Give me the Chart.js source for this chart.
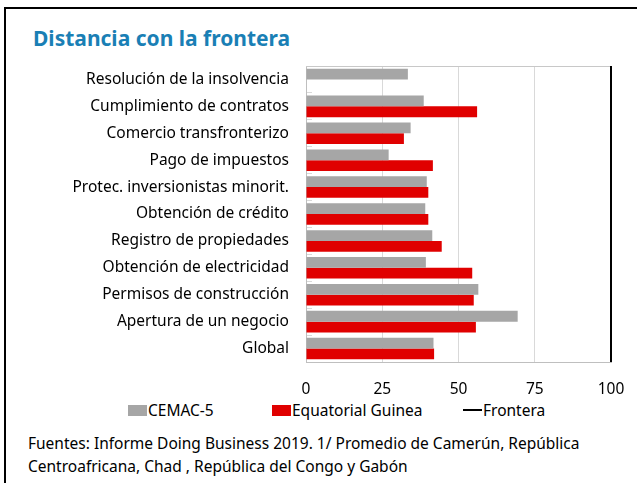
<!DOCTYPE html>
<html>
<head>
<meta charset="utf-8">
<script src="https://cdn.jsdelivr.net/npm/chart.js@4/dist/chart.umd.min.js"></script>
<style>
body{margin:0;background:#fff;font-family:"Noto Sans",sans-serif;color:#000;}
#wrap{position:relative;width:637px;height:483px;overflow:hidden;}
#frame{position:absolute;left:4px;top:7px;width:700px;height:500px;border-left:2px solid #000;border-top:2px solid #000;}
#title{position:absolute;left:33px;top:24px;font-size:21px;font-weight:bold;color:#1a7fb5;white-space:nowrap;}
#chartBox{position:absolute;left:0;top:55px;width:637px;height:340px;}
#legend{position:absolute;left:128px;top:400px;display:flex;font-size:15.5px;line-height:20px;white-space:nowrap;}
#legend .item{display:flex;align-items:center;}
#legend .sw{width:19px;height:11px;margin-right:1px;}
#legend .ln{width:19px;height:2px;margin-right:1px;}
#note{position:absolute;left:28px;top:432px;font-size:15.5px;line-height:23px;white-space:nowrap;}
</style>
</head>
<body>
<div id="wrap">
  <div id="frame"></div>
  <div id="title">Distancia con la frontera</div>
  <div id="chartBox"><canvas id="distChart"></canvas></div>
  <div id="legend"></div>
  <div id="note">Fuentes: Informe Doing Business 2019. 1/ Promedio de Camerún, República<br>Centroafricana, Chad , República del Congo y Gabón</div>
</div>

<script>
// ---------- data ----------
const categories = [
    "Resolución de la insolvencia",
    "Cumplimiento de contratos",
    "Comercio transfronterizo",
    "Pago de impuestos",
    "Protec. inversionistas minorit.",
    "Obtención de crédito",
    "Registro de propiedades",
    "Obtención de electricidad",
    "Permisos de construcción",
    "Apertura de un negocio",
    "Global"
];

const cemac = [33.4, 38.6, 34.3, 27.1, 39.6, 39.1, 41.4, 39.3, 56.5, 69.4, 41.8];

const eqGuinea = [null, 56.1, 32.1, 41.6, 40.1, 40.1, 44.5, 54.5, 55.0, 55.7, 42.0];

const frontera = 100;

const xTicks = [0, 25, 50, 75, 100];


// ---------- chart ----------
const font = {family:"'Noto Sans', sans-serif", size:15.5};

// drop the automatic label overhang so the plot box sits where we put it
const noPad = (s)=>{
    s.paddingTop = 0;
    s.paddingBottom = 0;
    s.paddingLeft = 0;
    s.paddingRight = 0;
};

const chart = new Chart(document.getElementById("distChart"), {

    data:{
        labels:categories,
        datasets:[
            {
                type:"bar",
                indexAxis:"y",
                label:"CEMAC-5",
                data:cemac,
                backgroundColor:"#a6a6a6",
                xAxisID:"x",
                yAxisID:"y",
                categoryPercentage:0.8,
                barPercentage:1
            },
            {
                type:"bar",
                indexAxis:"y",
                label:"Equatorial Guinea",
                data:eqGuinea,
                backgroundColor:"#e00000",
                xAxisID:"x",
                yAxisID:"y",
                categoryPercentage:0.8,
                barPercentage:1
            },
            {
                type:"line",
                label:"Frontera",
                data:[{x:frontera, y:0}, {x:frontera, y:1}],
                borderColor:"#000",
                borderWidth:2,
                pointRadius:0,
                xAxisID:"x",
                yAxisID:"yf",
                clip:false
            }
        ]
    },

    options:{
        responsive:true,
        maintainAspectRatio:false,
        animation:false,
        layout:{padding:{top:11, right:26, left:0, bottom:0}},
        plugins:{
            legend:{display:false},
            tooltip:{enabled:false}
        },
        scales:{
            y:{
                type:"category",
                position:"left",
                // short marks between categories, drawn inside the plot
                grid:{offset:true, drawOnChartArea:false, drawTicks:true, tickLength:-6, color:"#d9d9d9"},
                border:{display:true, color:"#bfbfbf"},
                ticks:{font:font, color:"#000", padding:23},
                afterFit:(s)=>{ s.width = 306; noPad(s); }
            },
            yf:{
                type:"linear",
                min:0,
                max:1,
                display:false
            },
            x:{
                type:"linear",
                position:"bottom",
                min:0,
                max:100,
                grid:{color:"#d9d9d9", drawTicks:false},
                border:{display:true, color:"#bfbfbf"},
                ticks:{font:font, color:"#000", padding:18},
                afterBuildTicks:(s)=>{ s.ticks = xTicks.map(v=>({value:v})); },
                afterFit:(s)=>{ s.height = 33; noPad(s); }
            },
            x2:{
                type:"linear",
                position:"top",
                min:0,
                max:100,
                grid:{display:false, drawTicks:false},
                border:{display:true, color:"#c8c8c8"},
                ticks:{display:false},
                afterFit:(s)=>{ s.height = 0; noPad(s); }
            }
        }
    }
});


// ---------- legend ----------
const legend = document.getElementById("legend");
const itemWidths = [144, 191, 120];

chart.data.datasets.forEach((ds, i)=>{

    const item = document.createElement("div");
    item.className = "item";
    item.style.width = itemWidths[i] + "px";

    const mark = document.createElement("span");

    if(ds.type === "line"){
        mark.className = "ln";
        mark.style.background = ds.borderColor;
    }else{
        mark.className = "sw";
        mark.style.background = ds.backgroundColor;
    }

    const txt = document.createElement("span");
    txt.textContent = ds.label;

    item.appendChild(mark);
    item.appendChild(txt);
    legend.appendChild(item);

});
</script>
</body>
</html>
